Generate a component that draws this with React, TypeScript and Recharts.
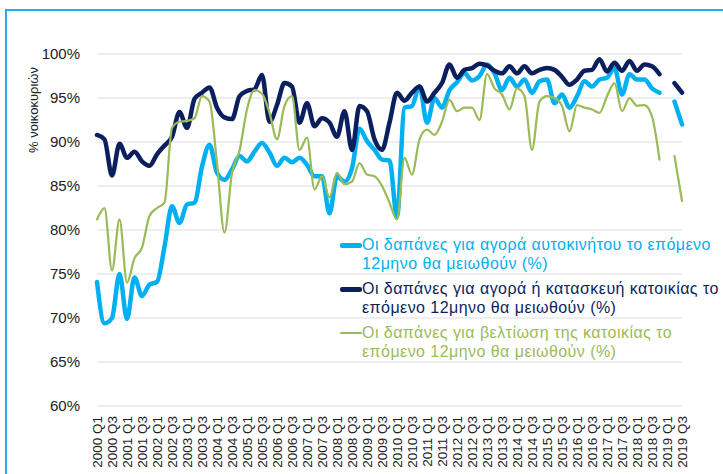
import { LineChart, Line, XAxis, YAxis, CartesianGrid } from 'recharts'

const FONT = '"Liberation Sans", Arial, sans-serif'

const quarters: string[] = []
for (let y = 2000; y <= 2019; y++) {
  for (let q = 1; q <= 4; q++) {
    if (y === 2019 && q === 4) break
    quarters.push(`${y} Q${q}`)
  }
}

// % of households expecting to cut spending over the next 12 months
const carSpend = [
  74.1, 69.4, 70.0, 75.0, 69.9, 74.6, 72.5, 73.8, 74.1, 78.1,
  82.7, 80.8, 82.9, 83.1, 87.2, 89.7, 86.5, 85.7, 86.9, 88.4,
  87.8, 88.9, 89.9, 88.8, 87.3, 88.2, 87.7, 88.2, 87.4, 86.1,
  86.1, 81.9, 86.1, 85.5, 87.0, 91.5, 90.1, 89.1, 88.0, 87.9,
  81.5, 93.9, 94.1, 96.3, 92.2, 95.0, 93.9, 95.9, 96.8, 97.8,
  97.0, 97.5, 98.8, 97.8, 95.9, 97.3, 96.3, 97.1, 95.6, 96.9,
  97.1, 94.4, 95.4, 93.9, 95.2, 96.9, 96.3, 97.1, 97.3, 98.4,
  95.4, 97.7, 97.1, 97.1, 96.1, 95.6, null, 94.6, 92.0,
]

const houseSpend = [
  90.8, 90.3, 86.2, 89.8, 88.2, 88.9, 87.8, 87.3, 88.6, 89.6,
  90.6, 93.4, 91.6, 94.9, 95.6, 96.2, 93.9, 92.8, 92.6, 95.2,
  95.8, 96.0, 97.6, 92.3, 94.2, 96.7, 96.3, 92.2, 94.4, 91.8,
  92.7, 92.2, 90.6, 93.5, 89.1, 94.1, 93.5, 90.3, 89.1, 92.2,
  95.6, 94.7, 95.6, 96.3, 94.6, 95.6, 96.7, 98.8, 97.3, 98.2,
  98.4, 98.9, 98.7, 98.1, 97.8, 98.6, 97.8, 98.6, 97.8, 98.2,
  98.4, 98.2, 97.4, 96.5, 97.1, 98.1, 98.2, 99.4, 98.0, 99.0,
  98.1, 99.2, 98.1, 98.8, 98.6, 97.7, null, 96.7, 95.6,
]

const repairSpend = [
  81.2, 82.5, 75.4, 81.2, 74.0, 76.8, 78.0, 81.6, 82.5, 83.1,
  91.6, 92.3, 92.4, 92.7, 95.2, 94.6, 87.6, 79.7, 86.5, 89.0,
  93.7, 95.9, 95.5, 93.3, 90.3, 94.1, 95.2, 89.1, 90.5, 84.6,
  86.1, 83.7, 86.5, 85.2, 85.5, 87.6, 86.3, 86.1, 85.0, 83.1,
  81.2, 88.2, 86.3, 90.3, 91.4, 90.8, 92.3, 94.8, 93.5, 93.9,
  93.9, 92.5, 97.7, 96.1, 95.4, 93.7, 96.1, 95.2, 89.1, 94.6,
  95.2, 95.0, 94.1, 91.2, 94.2, 93.9, 93.7, 93.3, 95.2, 96.7,
  93.5, 95.0, 94.1, 94.2, 92.9, 88.0, null, 88.4, 83.3,
]

const yTicks = [60, 65, 70, 75, 80, 85, 90, 95, 100]

const series = [
  { key: 'car', color: '#00B0F0', width: 4.5, lines: ['Οι δαπάνες για αγορά αυτοκινήτου το επόμενο', '12μηνο θα μειωθούν (%)'] },
  { key: 'house', color: '#0B1F5E', width: 4.5, lines: ['Οι δαπάνες για αγορά ή κατασκευή κατοικίας το', 'επόμενο 12μηνο θα μειωθούν (%)'] },
  { key: 'repair', color: '#9BBB59', width: 2.25, lines: ['Οι δαπάνες για βελτίωση της κατοικίας το', 'επόμενο 12μηνο θα μειωθούν (%)'] },
]

const data = quarters.map((q, i) => ({
  q,
  car: carSpend[i],
  house: houseSpend[i],
  repair: repairSpend[i],
}))

function QuarterTick({ x, y, payload }: any) {
  return (
    <text
      x={x}
      y={y}
      transform={`rotate(-90, ${x}, ${y})`}
      textAnchor="end"
      dy="0.36em"
      fontSize={13.5}
      fontFamily={FONT}
      fill="#222"
    >
      {payload.value}
    </text>
  )
}

function SeriesLegend() {
  return (
    <div style={{ position: 'absolute', left: 340, top: 236, fontFamily: FONT, fontSize: 16, letterSpacing: 0.45, lineHeight: '18.5px' }}>
      {series.map((s) => (
        <div key={s.key} style={{ position: 'relative', paddingLeft: 22, marginBottom: 7, color: s.color }}>
          <span
            style={{
              position: 'absolute',
              left: 0,
              top: 9.25 - s.width / 2,
              width: 22,
              height: s.width,
              background: s.color,
              borderRadius: 2,
            }}
          />
          {s.lines.map((l) => (
            <div key={l} style={{ whiteSpace: 'nowrap' }}>{l}</div>
          ))}
        </div>
      ))}
    </div>
  )
}

export default function App() {
  return (
    <div style={{ position: 'absolute', left: 0, top: 0, width: 723, height: 474, background: '#fff', overflow: 'hidden' }}>
      <div
        style={{
          position: 'absolute',
          left: 5,
          top: 9,
          width: 718,
          height: 465,
          boxSizing: 'border-box',
          borderTop: '2px solid #22ACE8',
          borderLeft: '2px solid #22ACE8',
        }}
      />
      <div
        style={{
          position: 'absolute',
          left: 33,
          top: 110,
          transform: 'translate(-50%, -50%) rotate(-90deg)',
          fontFamily: FONT,
          fontSize: 13,
          color: '#222',
          whiteSpace: 'nowrap',
        }}
      >
        % νοικοκυριών
      </div>
      <LineChart
        width={723}
        height={474}
        data={data}
        margin={{ top: 54, right: 41, bottom: 0, left: 0 }}
        style={{ position: 'absolute', left: 0, top: 0 }}
      >
        <CartesianGrid vertical={false} stroke="#DDDDDD" strokeWidth={1} />
        <XAxis
          dataKey="q"
          interval={1}
          height={68}
          axisLine={false}
          tickLine={false}
          tickSize={0}
          tickMargin={10}
          tick={<QuarterTick />}
        />
        <YAxis
          width={97}
          domain={[60, 100]}
          ticks={yTicks}
          axisLine={false}
          tickLine={false}
          tickSize={0}
          tickMargin={17}
          tickFormatter={(v: number) => `${v}%`}
          tick={{ fontSize: 15, fontFamily: FONT, fill: '#222' }}
        />
        {series.map((s) => (
          <Line
            key={s.key}
            dataKey={s.key}
            type="monotone"
            stroke={s.color}
            strokeWidth={s.width}
            strokeLinecap="round"
            strokeLinejoin="round"
            dot={false}
            activeDot={false}
            isAnimationActive={false}
          />
        ))}
      </LineChart>
      <SeriesLegend />
    </div>
  )
}
